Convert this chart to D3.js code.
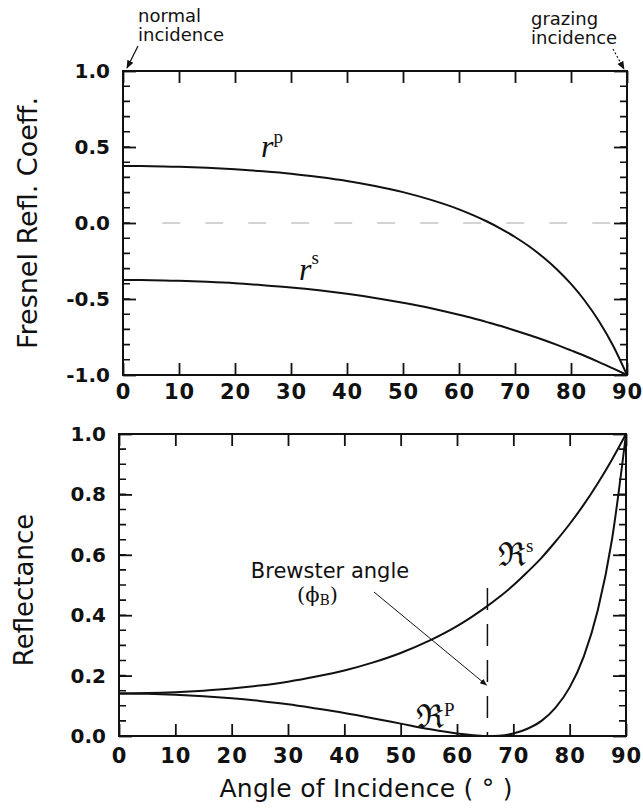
<!DOCTYPE html>
<html lang="en">
<head>
  <meta charset="UTF-8">
  <title>Fresnel Reflection</title>
  <script src="https://d3js.org/d3.v7.min.js"></script>
  <style>
    body { margin: 0; background: #fff; }
    text { font-family: "DejaVu Sans", sans-serif; fill: #111; }
    .tick text { font-family: "DejaVu Sans", sans-serif; font-weight: bold; font-size: 20px; fill: #111; }
  </style>
</head>
<body>
  <script>
    // Values
    const angles = [0, 5, 10, 15, 20, 25, 30, 35, 40, 45, 50, 55, 60, 62.5, 65, 67.5, 70, 72.5, 75, 77.5, 80, 82.5, 85, 87.5, 90];
    const rP = [0.375, 0.374, 0.37, 0.363, 0.353, 0.34, 0.324, 0.302, 0.276, 0.243, 0.203, 0.152, 0.09, 0.052, 0.01, -0.038, -0.092, -0.153, -0.224, -0.306, -0.401, -0.513, -0.646, -0.806, -1.0];
    const rS = [-0.375, -0.376, -0.38, -0.387, -0.396, -0.409, -0.424, -0.443, -0.466, -0.493, -0.525, -0.561, -0.604, -0.627, -0.652, -0.678, -0.707, -0.737, -0.768, -0.802, -0.838, -0.875, -0.915, -0.957, -1.0];
    const reflP = [0.141, 0.14, 0.137, 0.132, 0.125, 0.116, 0.105, 0.091, 0.076, 0.059, 0.041, 0.023, 0.008, 0.003, 0.0, 0.001, 0.008, 0.024, 0.05, 0.094, 0.161, 0.263, 0.417, 0.649, 1.0];
    const reflS = [0.141, 0.142, 0.145, 0.15, 0.157, 0.167, 0.18, 0.197, 0.217, 0.243, 0.275, 0.315, 0.364, 0.393, 0.425, 0.46, 0.499, 0.543, 0.59, 0.644, 0.702, 0.766, 0.837, 0.915, 1.0];
    const xTicks = [0, 10, 20, 30, 40, 50, 60, 70, 80, 90];
    const coeffTicks = [-1.0, -0.5, 0.0, 0.5, 1.0];
    const reflTicks = [0.0, 0.2, 0.4, 0.6, 0.8, 1.0];
    const brewsterAngle = 65.4;

    const width = 643, height = 810;
    const svg = d3.select("body").append("svg")
      .attr("width", width)
      .attr("height", height);

    // arrow heads
    const defs = svg.append("defs");
    defs.append("marker")
      .attr("id", "arrow")
      .attr("viewBox", "0 0 10 10")
      .attr("refX", 9).attr("refY", 5)
      .attr("markerWidth", 7).attr("markerHeight", 7)
      .attr("orient", "auto")
      .append("path")
      .attr("d", "M0,1 L10,5 L0,9 Z")
      .attr("fill", "#111");

    // scales for the two panels
    const x1 = d3.scaleLinear().domain([0, 90]).range([123, 627]);
    const y1 = d3.scaleLinear().domain([-1, 1]).range([375, 71]);
    const x2 = d3.scaleLinear().domain([0, 90]).range([119, 626]);
    const y2 = d3.scaleLinear().domain([0, 1]).range([736, 434]);

    const fmt1 = d => d.toFixed(1);

    function drawPanel(x, y, yMajor, yMinorStep, labelY) {
      const [x0, xEnd] = x.range();
      const [yBottom, yTop] = y.range();
      const g = svg.append("g");
      const [d0, d1] = y.domain();
      const minor = d3.range(Math.round((d1 - d0) / yMinorStep) + 1).map(i => d0 + i * yMinorStep);

      // frame
      g.append("rect")
        .attr("x", x0).attr("y", yTop)
        .attr("width", xEnd - x0).attr("height", yBottom - yTop)
        .attr("fill", "none").attr("stroke", "#111").attr("stroke-width", 2);

      // minor y ticks on both sides, inward
      const tickPath = (xs, len) => minor.map(d => `M${xs},${y(d)}h${len}`).join("");
      g.append("path").attr("d", tickPath(x0, 7))
        .attr("fill", "none").attr("stroke", "#111").attr("stroke-width", 1.6);
      g.append("path").attr("d", tickPath(xEnd, -7))
        .attr("fill", "none").attr("stroke", "#111").attr("stroke-width", 1.6);

      // left
      g.append("g").attr("transform", `translate(${x0},0)`)
        .call(d3.axisLeft(y).tickValues(yMajor).tickSize(-13).tickPadding(13).tickFormat(fmt1))
        .call(a => a.select(".domain").remove());
      // right
      g.append("g").attr("transform", `translate(${xEnd},0)`)
        .call(d3.axisRight(y).tickValues(yMajor).tickSize(-13).tickFormat(""))
        .call(a => a.select(".domain").remove());
      // bottom
      g.append("g").attr("transform", `translate(0,${yBottom})`)
        .call(d3.axisBottom(x).tickValues(xTicks).tickSize(-12).tickFormat(d3.format("d")))
        .call(a => a.select(".domain").remove())
        .call(a => a.selectAll("text").attr("y", labelY).attr("dy", null).style("font-size", "21px").style("letter-spacing", "1px"));
      // top
      g.append("g").attr("transform", `translate(0,${yTop})`)
        .call(d3.axisTop(x).tickValues(xTicks).tickSize(-12).tickFormat(""))
        .call(a => a.select(".domain").remove());

      g.selectAll(".tick line").attr("stroke", "#111").attr("stroke-width", 1.8);
      return g;
    }

    // ---- top panel: Fresnel coefficients
    drawPanel(x1, y1, coeffTicks, 0.1, 24);

    svg.append("line")
      .attr("x1", x1(7)).attr("x2", x1(87))
      .attr("y1", y1(0)).attr("y2", y1(0))
      .attr("stroke", "#a8a8a8").attr("stroke-width", 1.2)
      .attr("stroke-dasharray", "18 25");

    const line1 = d3.line().x((d, i) => x1(angles[i])).y(d => y1(d)).curve(d3.curveMonotoneX);
    [rP, rS].forEach(s => {
      svg.append("path").datum(s)
        .attr("d", line1)
        .attr("fill", "none").attr("stroke", "#111").attr("stroke-width", 2);
    });

    // curve labels top
    const rp = svg.append("text").attr("x", 261).attr("y", 157)
      .style("font-family", "'Liberation Serif', serif").style("font-size", "32px");
    rp.append("tspan").style("font-style", "italic").text("r");
    rp.append("tspan").attr("dy", -14).style("font-size", "19px").text("p");

    const rs = svg.append("text").attr("x", 299).attr("y", 280)
      .style("font-family", "'Liberation Serif', serif").style("font-size", "32px");
    rs.append("tspan").style("font-style", "italic").text("r");
    rs.append("tspan").attr("dy", -16).style("font-size", "19px").text("s");

    // axis title top
    svg.append("text")
      .attr("transform", `translate(37,${(y1(1) + y1(-1)) / 2}) rotate(-90)`)
      .attr("text-anchor", "middle")
      .style("font-size", "27px")
      .text("Fresnel Refl. Coeff.");

    // normal / grazing incidence notes
    svg.append("text").attr("x", 138).attr("y", 22).style("font-size", "18px").text("normal");
    svg.append("text").attr("x", 138).attr("y", 41).style("font-size", "18px").text("incidence");
    svg.append("line")
      .attr("x1", 138).attr("y1", 46).attr("x2", 127).attr("y2", 68)
      .attr("stroke", "#111").attr("stroke-width", 1.2)
      .attr("marker-end", "url(#arrow)");

    svg.append("text").attr("x", 531).attr("y", 25).style("font-size", "18px").text("grazing");
    svg.append("text").attr("x", 531).attr("y", 44).style("font-size", "18px").text("incidence");
    svg.append("line")
      .attr("x1", 613).attr("y1", 49).attr("x2", 624).attr("y2", 69)
      .attr("stroke", "#111").attr("stroke-width", 1.2)
      .attr("stroke-dasharray", "2 2")
      .attr("marker-end", "url(#arrow)");

    // ---- bottom panel: Reflectance
    drawPanel(x2, y2, reflTicks, 0.05, 27);

    const line2 = d3.line().x((d, i) => x2(angles[i])).y(d => y2(d)).curve(d3.curveMonotoneX);
    [reflP, reflS].forEach(s => {
      svg.append("path").datum(s)
        .attr("d", line2)
        .attr("fill", "none").attr("stroke", "#111").attr("stroke-width", 2);
    });

    // Brewster angle marker
    svg.append("line")
      .attr("x1", x2(brewsterAngle)).attr("x2", x2(brewsterAngle))
      .attr("y1", y2(0.49)).attr("y2", y2(0))
      .attr("stroke", "#111").attr("stroke-width", 1.5)
      .attr("stroke-dasharray", "22 14");

    svg.append("text").attr("x", 330).attr("y", 578)
      .attr("text-anchor", "middle").style("font-size", "21px")
      .text("Brewster angle");
    const phi = svg.append("text").attr("x", 297).attr("y", 602)
      .style("font-family", "'DejaVu Serif', serif").style("font-size", "21px");
    phi.append("tspan").text("(\u03D5");
    phi.append("tspan").attr("dy", 3).style("font-size", "14px").text("B");
    phi.append("tspan").attr("dy", -3).text(")");

    svg.append("line")
      .attr("x1", 374).attr("y1", 592)
      .attr("x2", x2(brewsterAngle) - 1).attr("y2", 685)
      .attr("stroke", "#111").attr("stroke-width", 1)
      .attr("marker-end", "url(#arrow)");

    // curve labels bottom
    const Rs = svg.append("text").attr("x", 498).attr("y", 566)
      .style("font-family", "'DejaVu Serif', serif").style("font-size", "33px");
    Rs.append("tspan").text("\u211C");
    Rs.append("tspan").attr("dy", -14).style("font-size", "19px").style("font-family", "'Liberation Serif', serif").text("s");

    const Rp = svg.append("text").attr("x", 416).attr("y", 728)
      .style("font-family", "'DejaVu Serif', serif").style("font-size", "33px");
    Rp.append("tspan").text("\u211C");
    Rp.append("tspan").attr("dy", -12).style("font-size", "19px").style("font-family", "'Liberation Serif', serif").text("P");

    // axis titles bottom
    svg.append("text")
      .attr("transform", `translate(33,${(y2(0) + y2(1)) / 2 + 5}) rotate(-90)`)
      .attr("text-anchor", "middle")
      .style("font-size", "26px")
      .text("Reflectance");

    svg.append("text")
      .attr("x", 366).attr("y", 797)
      .attr("text-anchor", "middle")
      .attr("textLength", 293).attr("lengthAdjust", "spacing")
      .style("font-size", "25px")
      .text("Angle of Incidence ( \u00B0 )");
  </script>
</body>
</html>
